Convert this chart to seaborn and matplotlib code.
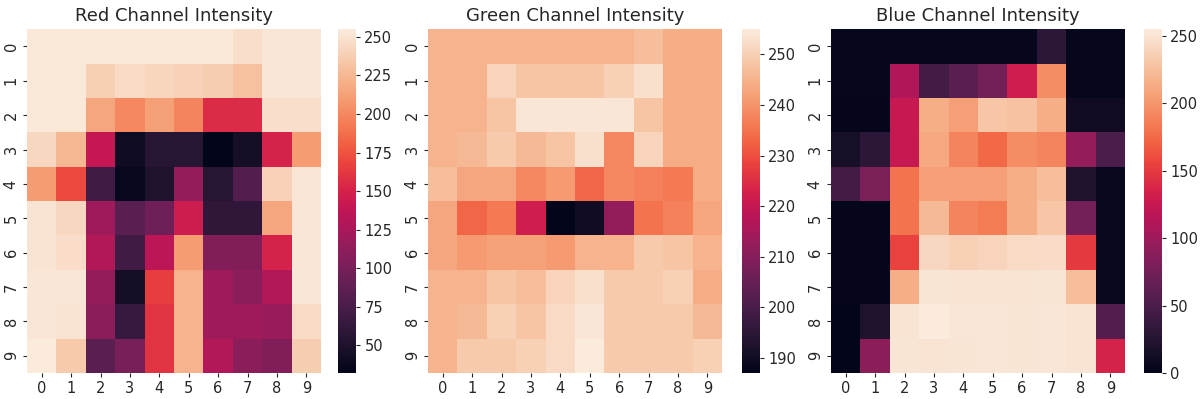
import numpy as np
import matplotlib
matplotlib.use("Agg")
from matplotlib import pyplot
import seaborn as sns

# 10x10 channel intensities
red_rows = [
	[253, 253, 253, 253, 253, 253, 253, 248, 252, 252],
	[253, 253, 238, 245, 242, 240, 237, 230, 252, 252],
	[253, 253, 215, 200, 212, 198, 155, 155, 248, 248],
	[243, 225, 140, 40, 55, 55, 32, 45, 150, 210],
	[210, 170, 70, 36, 50, 115, 55, 80, 240, 252],
	[250, 243, 120, 85, 95, 145, 60, 60, 215, 252],
	[250, 247, 130, 70, 135, 210, 105, 105, 150, 252],
	[252, 252, 115, 45, 165, 222, 120, 110, 130, 252],
	[252, 250, 110, 65, 160, 222, 120, 120, 118, 245],
	[255, 235, 85, 100, 160, 222, 130, 110, 105, 237],
]
green_rows = [
	[245, 245, 245, 245, 245, 245, 245, 247, 244, 244],
	[245, 245, 251, 248, 248, 248, 250, 253, 244, 244],
	[245, 245, 248, 254, 254, 254, 254, 248, 244, 244],
	[245, 246, 249, 246, 248, 253, 238, 251, 244, 244],
	[247, 243, 243, 238, 241, 233, 238, 237, 236, 244],
	[243, 233, 236, 222, 187, 190, 212, 235, 237, 243],
	[243, 241, 242, 242, 241, 245, 245, 249, 248, 245],
	[245, 245, 248, 247, 251, 253, 249, 249, 250, 244],
	[245, 246, 250, 248, 252, 254, 249, 249, 249, 246],
	[245, 249, 249, 250, 252, 255, 249, 249, 249, 250],
]
blue_rows = [
	[3, 3, 3, 3, 3, 3, 3, 30, 3, 3],
	[3, 3, 110, 45, 60, 75, 130, 195, 3, 3],
	[2, 2, 125, 215, 205, 230, 228, 215, 10, 10],
	[15, 30, 125, 212, 190, 175, 195, 190, 95, 50],
	[45, 80, 180, 205, 205, 205, 215, 225, 20, 4],
	[2, 2, 180, 222, 190, 185, 215, 230, 75, 4],
	[2, 2, 155, 242, 237, 240, 244, 245, 150, 4],
	[2, 2, 215, 251, 250, 250, 250, 251, 225, 4],
	[0, 20, 250, 255, 252, 252, 251, 252, 250, 55],
	[0, 90, 251, 250, 251, 252, 251, 252, 250, 135],
]
titles = ['Red Channel Intensity', 'Green Channel Intensity', 'Blue Channel Intensity']

sns.set_theme(style="ticks")
pyplot.rcParams['font.family'] = ['DejaVu Sans']
pyplot.rcParams['font.sans-serif'] = ['DejaVu Sans']

fig = pyplot.figure(figsize=(12, 3.99), dpi=100)

# heatmap / colorbar boxes, in figure fractions
hm_left = [0.0225, 0.3567, 0.6925]
cb_left = [0.2817, 0.6183, 0.9533]
bottom, height = 0.065, 0.862

for i, rows in enumerate([red_rows, green_rows, blue_rows]):
	ax = fig.add_axes([hm_left[i], bottom, 0.245, height])
	cax = fig.add_axes([cb_left[i], bottom, 0.015, height])
	sns.heatmap(np.array(rows), ax=ax, cbar_ax=cax)
	ax.set_title(titles[i], fontsize=13, color='#262626', pad=6)
	ax.tick_params(length=3, width=0.8, labelsize=10.5, colors='#262626', pad=3)
	cax.tick_params(length=3, width=0.8, labelsize=10.5, colors='#262626', pad=3)

pyplot.savefig('out.png', dpi=100)
